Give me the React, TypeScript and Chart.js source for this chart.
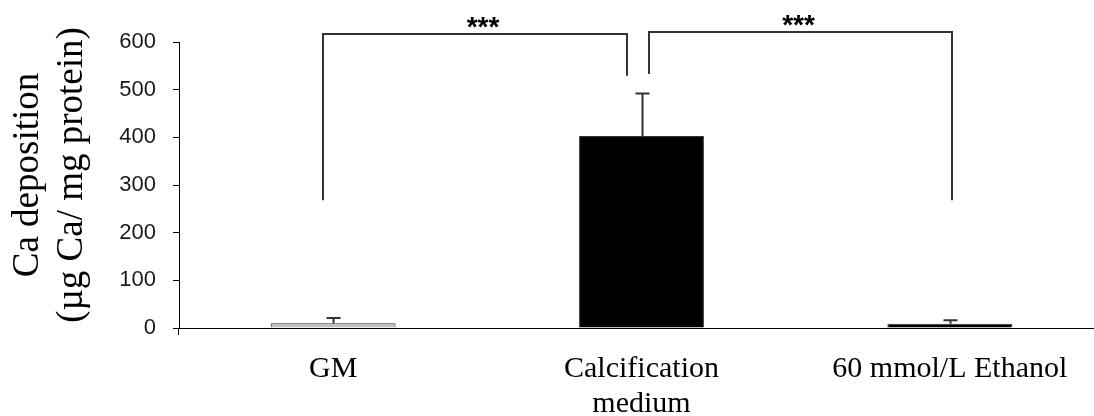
import React, { useEffect, useRef } from "react";
import { Chart, registerables } from "chart.js";

Chart.register(...registerables);

// ---- data ----
const categories: (string | string[])[] = ["GM", ["Calcification", "medium"], "60 mmol/L Ethanol"];
const meanValues = [10, 403, 9];
const errorValues = [11, 89, 7];
const barColors = ["#c0c0c0", "#000000", "#000000"];
const yMin = 0;
const yMax = 600;
const yStep = 100;
const yTitleLines = ["Ca deposition", "(µg Ca/ mg protein)"];
const bracketFrom = [0, 1];
const bracketTo = [1, 2];
const bracketTopValues = [617, 621];
const bracketLeftEndValues = [268, 533];
const bracketRightEndValues = [529, 268];
const bracketLabels = ["***", "***"];

// ---- style ----
const bracketLeftOffset = [-10, 7];
const bracketRightOffset = [-15, 2];
const starOffset = [8, -2];

const errorBarPlugin = {
  id: "errorBars",
  afterDatasetsDraw(chart: any) {
    const ctx = chart.ctx;
    const meta = chart.getDatasetMeta(0);
    const y = chart.scales.y;
    ctx.save();
    ctx.strokeStyle = "#333333";
    ctx.lineWidth = 2;
    meta.data.forEach((bar: any, i: number) => {
      const x = Math.round(bar.x) + 0.5;
      const top = y.getPixelForValue(meanValues[i] + errorValues[i]);
      const base = y.getPixelForValue(meanValues[i]);
      ctx.beginPath();
      ctx.moveTo(x, base);
      ctx.lineTo(x, top);
      ctx.moveTo(x - 7, top);
      ctx.lineTo(x + 7, top);
      ctx.stroke();
    });
    ctx.restore();
  },
};

const bracketPlugin = {
  id: "brackets",
  afterDraw(chart: any) {
    const ctx = chart.ctx;
    const meta = chart.getDatasetMeta(0);
    const y = chart.scales.y;
    ctx.save();
    ctx.strokeStyle = "#333333";
    ctx.lineWidth = 2;
    for (let b = 0; b < bracketFrom.length; b++) {
      const x1 = Math.round(meta.data[bracketFrom[b]].x + bracketLeftOffset[b]);
      const x2 = Math.round(meta.data[bracketTo[b]].x + bracketRightOffset[b]);
      const yt = Math.round(y.getPixelForValue(bracketTopValues[b]));
      const yl = y.getPixelForValue(bracketLeftEndValues[b]);
      const yr = y.getPixelForValue(bracketRightEndValues[b]);
      ctx.beginPath();
      ctx.moveTo(x1, yl);
      ctx.lineTo(x1, yt);
      ctx.lineTo(x2, yt);
      ctx.lineTo(x2, yr);
      ctx.stroke();
      ctx.fillStyle = "#000000";
      ctx.font = "bold 28px 'Liberation Sans', Arial, sans-serif";
      ctx.textAlign = "center";
      ctx.textBaseline = "alphabetic";
      ctx.fillText(bracketLabels[b], (x1 + x2) / 2 + starOffset[b], yt + 2);
    }
    // y axis title
    ctx.fillStyle = "#000000";
    ctx.font = "37px 'Liberation Serif', 'Times New Roman', serif";
    ctx.textAlign = "center";
    ctx.textBaseline = "middle";
    ctx.translate(0, 175);
    ctx.rotate(-Math.PI / 2);
    ctx.fillText(yTitleLines[0], 0, 28);
    ctx.fillText(yTitleLines[1], 0, 72);
    ctx.restore();
  },
};

export default function App() {
  const ref = useRef<HTMLCanvasElement | null>(null);
  useEffect(() => {
    if (!ref.current) return;
    const chart = new Chart(ref.current, {
      type: "bar",
      data: {
        labels: categories as any,
        datasets: [
          {
            data: meanValues,
            backgroundColor: barColors,
            borderColor: "#333333",
            borderWidth: 1,
            barPercentage: 0.405,
            categoryPercentage: 1,
          },
        ],
      },
      options: {
        animation: false,
        responsive: true,
        maintainAspectRatio: false,
        layout: { padding: { top: 42, left: 0, right: 0, bottom: 0 } },
        plugins: { legend: { display: false }, tooltip: { enabled: false } },
        scales: {
          x: {
            offset: true,
            afterFit: (s: any) => {
              s.height = 88;
            },
            grid: {
              display: true,
              offset: true,
              drawOnChartArea: false,
              tickLength: 7,
              color: (c: any) => (c.index === 0 ? "#000000" : "rgba(0,0,0,0)"),
            },
            border: { display: true, color: "#000000", width: 1 },
            ticks: {
              color: "#000000",
              padding: 17,
              maxRotation: 0,
              autoSkip: false,
              font: { family: "'Liberation Serif', 'Times New Roman', serif", size: 30, lineHeight: 1.15 },
            },
          },
          y: {
            min: yMin,
            max: yMax,
            afterFit: (s: any) => {
              s.width = 179;
            },
            grid: { display: true, drawOnChartArea: false, tickLength: 6, color: "#000000" },
            border: { display: true, color: "#000000", width: 1 },
            ticks: {
              stepSize: yStep,
              color: "#1a1a1a",
              padding: 17,
              font: { family: "'Liberation Sans', Arial, sans-serif", size: 22 },
            },
          },
        },
      },
      plugins: [errorBarPlugin, bracketPlugin],
    });
    return () => chart.destroy();
  }, []);
  return (
    <div style={{ position: "absolute", left: 0, top: 0, width: 1094, height: 416, overflow: "hidden", background: "#ffffff" }}>
      <div style={{ position: "relative", width: 1104, height: 416 }}>
        <canvas ref={ref} />
      </div>
    </div>
  );
}
